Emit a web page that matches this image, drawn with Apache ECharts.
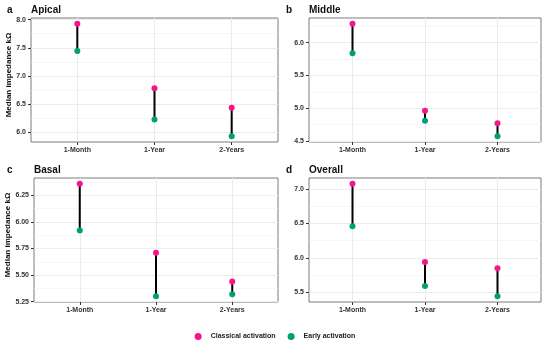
<!DOCTYPE html>
<html>
<head>
<meta charset="utf-8">
<script src="https://cdn.jsdelivr.net/npm/echarts@6/dist/echarts.min.js"></script>
<style>html,body{margin:0;padding:0;background:#fff}#c{width:550px;height:341px}</style>
</head>
<body>
<div id="c"></div>
<script>
const categories = ['1-Month', '1-Year', '2-Years'];
const panelTitles = ['Apical', 'Middle', 'Basal', 'Overall'];
const panelLetters = ['a', 'b', 'c', 'd'];
const seriesNames = ['Classical activation', 'Early activation'];

const classicalApical = [7.93, 6.78, 6.43];
const earlyApical = [7.44, 6.22, 5.92];
const classicalMiddle = [6.29, 4.96, 4.77];
const earlyMiddle = [5.84, 4.81, 4.57];
const classicalBasal = [6.36, 5.71, 5.44];
const earlyBasal = [5.92, 5.30, 5.32];
const classicalOverall = [7.08, 5.94, 5.85];
const earlyOverall = [6.46, 5.59, 5.44];

const ticksApical = [6.0, 6.5, 7.0, 7.5, 8.0];
const ticksMiddle = [4.5, 5.0, 5.5, 6.0];
const ticksBasal = [5.25, 5.5, 5.75, 6.0, 6.25];
const ticksOverall = [5.5, 6.0, 6.5, 7.0];

const classicalAll = [classicalApical, classicalMiddle, classicalBasal, classicalOverall];
const earlyAll = [earlyApical, earlyMiddle, earlyBasal, earlyOverall];
const ticksAll = [ticksApical, ticksMiddle, ticksBasal, ticksOverall];
const decimals = [1, 1, 2, 1];

const PINK = '#F7148C';
const TEAL = '#00A077';
const FONT = '"Liberation Sans", Arial, sans-serif';

const grids = [
  { left: 31, top: 18, width: 247, height: 124 },
  { left: 309, top: 18, width: 232, height: 124 },
  { left: 34, top: 178, width: 244, height: 124 },
  { left: 309, top: 178, width: 232, height: 124 }
];
const yNameGap = [15, 0, 18, 0];
const yMinor = [2, 2, 4, 2];
const ySplit = [4, 4, 2, 4];

const xAxes = [], yAxes = [], series = [], titles = [];
grids.forEach((g, i) => {
  const all = classicalAll[i].concat(earlyAll[i]);
  const lo = Math.min(...all), hi = Math.max(...all);
  const pad = (hi - lo) * 0.05;
  xAxes.push({
    gridIndex: i, type: 'value', min: 0.4, max: 3.6, splitNumber: 3,
    axisLine: { show: false },
    axisTick: { show: true, length: 3, lineStyle: { color: '#333' }, customValues: [1, 2, 3] },
    axisLabel: {
      customValues: [1, 2, 3], margin: 5,
      formatter: v => categories[Math.round(v) - 1] || '',
      fontFamily: FONT, fontWeight: 'bold', fontSize: 7, color: '#333'
    },
    splitLine: { show: true, lineStyle: { color: '#EBEBEB', width: 1 } }
  });
  yAxes.push({
    gridIndex: i, type: 'value', min: lo - pad, max: hi + pad, splitNumber: ySplit[i],
    name: (i % 2 === 0) ? 'Median impedance kΩ' : '',
    nameLocation: 'middle', nameGap: yNameGap[i],
    nameTextStyle: { fontFamily: FONT, fontWeight: 'bold', fontSize: 8, color: '#111', padding: [0, 0, 0, 10] },
    axisLine: { show: false },
    axisTick: { show: true, length: 3, lineStyle: { color: '#333' }, customValues: ticksAll[i] },
    axisLabel: {
      customValues: ticksAll[i], margin: 5,
      formatter: v => v.toFixed(decimals[i]),
      fontFamily: FONT, fontWeight: 'bold', fontSize: 7, color: '#333'
    },
    splitLine: { show: true, lineStyle: { color: '#EBEBEB', width: 1 } },
    minorTick: { show: false, splitNumber: yMinor[i] },
    minorSplitLine: { show: true, lineStyle: { color: '#F2F2F2', width: 0.6 } }
  });
  const segData = categories.map((c, k) => [k + 1, earlyAll[i][k], classicalAll[i][k]]);
  series.push({
    type: 'custom', xAxisIndex: i, yAxisIndex: i, z: 2, silent: true,
    data: segData,
    encode: { x: 0, y: [1, 2] },
    renderItem: (params, api) => {
      const p1 = api.coord([api.value(0), api.value(1)]);
      const p2 = api.coord([api.value(0), api.value(2)]);
      return { type: 'line', shape: { x1: p1[0], y1: p1[1], x2: p2[0], y2: p2[1] },
        style: { stroke: '#000', lineWidth: 2 } };
    }
  });
  series.push({
    type: 'scatter', name: seriesNames[0], xAxisIndex: i, yAxisIndex: i, z: 3,
    symbolSize: 6, itemStyle: { color: PINK, opacity: 1 },
    data: categories.map((c, k) => [k + 1, classicalAll[i][k]])
  });
  series.push({
    type: 'scatter', name: seriesNames[1], xAxisIndex: i, yAxisIndex: i, z: 3,
    symbolSize: 6, itemStyle: { color: TEAL, opacity: 1 },
    data: categories.map((c, k) => [k + 1, earlyAll[i][k]])
  });
  titles.push({
    text: panelLetters[i], left: (i % 2 === 0) ? 7 : 286, top: g.top - 13,
    textStyle: { fontFamily: FONT, fontWeight: 'bold', fontSize: 10, color: '#111' }, padding: 0
  });
  titles.push({
    text: panelTitles[i], left: g.left, top: g.top - 13,
    textStyle: { fontFamily: FONT, fontWeight: 'bold', fontSize: 10, color: '#111' }, padding: 0
  });
});

const chart = echarts.init(document.getElementById('c'), null, { renderer: 'canvas' });
chart.setOption({
  animation: false,
  backgroundColor: '#fff',
  title: titles,
  grid: grids.map(g => Object.assign({ show: true, borderColor: '#7A7A7A', borderWidth: 1, backgroundColor: 'transparent' }, g)),
  xAxis: xAxes,
  yAxis: yAxes,
  legend: {
    data: seriesNames, top: 328, left: 'center', icon: 'circle',
    itemWidth: 7, itemHeight: 7, itemGap: 12,
    textStyle: { fontFamily: FONT, fontWeight: 'bold', fontSize: 7, color: '#222', padding: [0, 0, 0, 4] }
  },
  series: series
});
</script>
</body>
</html>
